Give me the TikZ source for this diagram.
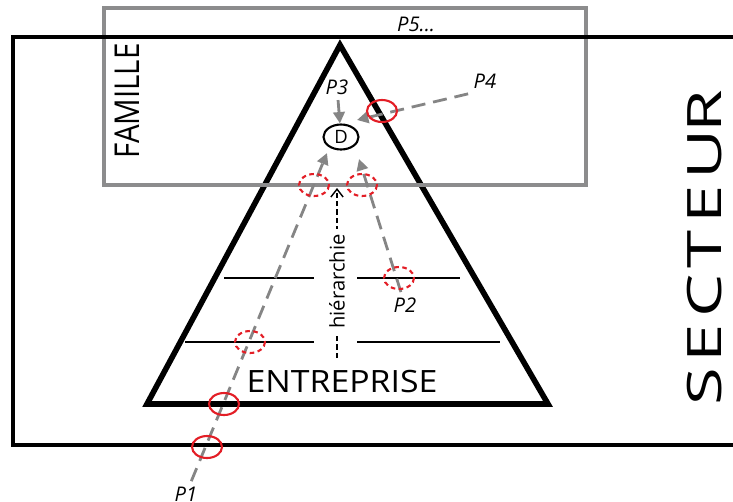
\documentclass[tikz,border=0pt]{standalone}
\usepackage{fontspec}
\setmainfont{Open Sans}
\usetikzlibrary{arrows.meta}
\usetikzlibrary{shapes.geometric}
\usetikzlibrary{positioning}

\definecolor{cadre}{HTML}{8C8C8D}
\definecolor{fleche}{HTML}{858585}
\definecolor{rouge}{HTML}{E31E26}

\begin{document}
\begin{tikzpicture}[x=0.02cm, y=-0.02cm,
    chemin/.style={draw=fleche, line width=1.6pt, dash pattern=on 8pt off 4.5pt, -{Triangle[length=6.5pt, width=6.5pt]}},
    direct/.style={draw=fleche, line width=1.6pt, -{Triangle[length=6.5pt, width=6.5pt]}},
    passe/.style={draw=rouge, line width=1.2pt},
    tente/.style={draw=rouge, line width=1.2pt, dash pattern=on 2.6pt off 2pt},
    etiq/.style={font=\itshape\fontsize{11.5}{13}\selectfont, inner sep=3pt},
    niveau/.style={line width=1.1pt}]
        \useasboundingbox (0,0) rectangle (733,501);

        % Define the corners of the pyramid
        \coordinate (sommet) at (340,45);
        \coordinate (basg) at (147,404);
        \coordinate (basd) at (548,404);

        % Draw the pyramid and its levels
        \draw[line width=3.2pt, line join=miter] (sommet) -- (basg) -- (basd) -- cycle;
        \draw[niveau] (224,278) -- (314,278);
        \draw[niveau] (357,278) -- (460,278);
        \draw[niveau] (185,342) -- (314,342);
        \draw[niveau] (357,342) -- (500,342);

        % Draw the family box and the sector box
        \draw[draw=cadre, line width=2.3pt] (104,8) rectangle (586,185);
        \draw[line width=2.8pt] (13,37) rectangle (760,445);

        % Draw the names
        \node[rotate=90, font=\fontsize{19.5}{20}\selectfont] (famille) at (127,101) {\scalebox{0.86}[1]{FAMILLE}};
        \node[rotate=90, font=\fontsize{27}{28}\selectfont] (secteur) at (705,248) {\scalebox{1.45}[1]{\addfontfeature{LetterSpace=9}SECTEU\kern-0.05em R}};
        \node[font=\fontsize{17.5}{19}\selectfont] (entreprise) at (342,382) {\scalebox{1.1}[1]{ENTREPRISE}};

        % Draw the decision node and the labels
        \node[ellipse, draw, line width=1.2pt, minimum width=0.7cm, minimum height=0.5cm, inner sep=0pt, font=\fontsize{10.5}{11}\selectfont] (d) at (341,137) {D};
        \node[etiq] (p1) at (186,494) {P1};
        \node[etiq] (p2) at (405,305) {P2};
        \node[etiq] (p3) at (337,87) {P3};
        \node[etiq] (p4) at (485,81) {P4};
        \node[etiq] (p5) at (416,24) {P5...};

        % Ends of the arrows next to D
        \coordinate (t1) at (327,153);
        \coordinate (t2) at (359,159);
        \coordinate (t4) at (357,120);

        % Draw the paths
        \draw[direct] (p3) -- (d);
        \draw[chemin] (p1) -- (t1);
        \draw[chemin] (p2) -- (t2);
        \draw[chemin] (p4.south west) -- (t4);

        % Draw the hierarchy arrow
        \coordinate (hbas) at (337,358);
        \coordinate (hhaut) at (337,188);
        \draw[line width=0.8pt, dash pattern=on 3pt off 1.8pt, -{Straight Barb[length=4.5pt, width=7pt]}] (hbas) -- (hhaut) node[pos=0.45, rotate=90, fill=white, inner sep=3pt, font=\fontsize{11.5}{12}\selectfont] (hier) {hiérarchie};

        % Draw the crossed and the tried boundaries
        \foreach \x/\y in {382/111, 224/404, 207/447}
        {
          \draw[passe] (\x,\y) ellipse (15 and 11);
        }
        \foreach \x/\y in {250/342, 314/185, 362/185, 399/278}
        {
          \draw[tente] (\x,\y) ellipse (15 and 11);
        }
      \end{tikzpicture}
\end{document}
